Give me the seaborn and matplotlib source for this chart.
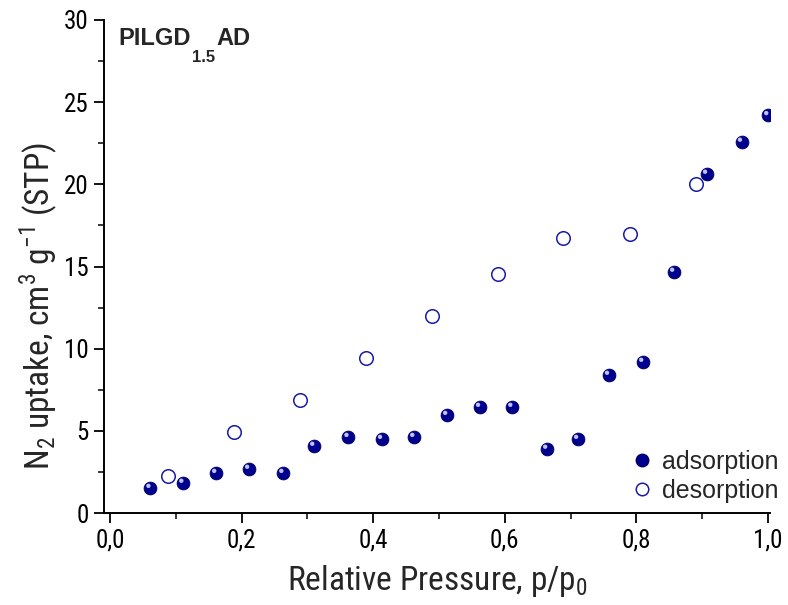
import matplotlib
matplotlib.use("Agg")
import matplotlib.pyplot as plt
import matplotlib.transforms as mtransforms
from matplotlib.ticker import MultipleLocator, FuncFormatter
from matplotlib.lines import Line2D
import seaborn as sns
import pandas as pd

ads_p = [0.061, 0.111, 0.161, 0.211, 0.263, 0.310, 0.362, 0.413, 0.462, 0.512,
         0.562, 0.611, 0.664, 0.711, 0.758, 0.810, 0.857, 0.907, 0.960, 1.000]
ads_v = [1.52, 1.83, 2.43, 2.68, 2.43, 4.08, 4.62, 4.50, 4.62, 5.96,
         6.45, 6.45, 3.90, 4.50, 8.40, 9.19, 14.67, 20.63, 22.58, 24.20]
des_p = [0.088, 0.188, 0.289, 0.389, 0.489, 0.590, 0.688, 0.790, 0.890]
des_v = [2.25, 4.93, 6.88, 9.43, 11.99, 14.55, 16.74, 16.98, 20.02]

sns.set_style("ticks")
plt.rcParams['font.family'] = ['Roboto Condensed', 'Liberation Sans', 'DejaVu Sans']

fig = plt.figure(figsize=(7.88, 6.05), dpi=100)
ax = fig.add_axes([0.132, 0.152, 0.845, 0.815])

ads = pd.DataFrame({"p": ads_p, "v": ads_v})
des = pd.DataFrame({"p": des_p, "v": des_v})

dark = "#00008f"
sns.scatterplot(data=ads, x="p", y="v", ax=ax, s=85, color=dark,
                edgecolor="#000060", linewidth=0.6, zorder=3)
# highlight for sphere look
off = mtransforms.ScaledTranslation(-1.2/72, 1.6/72, fig.dpi_scale_trans)
sns.scatterplot(data=ads, x="p", y="v", ax=ax, s=10, color="#c0c0ff",
                edgecolor="none", linewidth=0, zorder=4,
                transform=ax.transData + off)
sns.scatterplot(data=des, x="p", y="v", ax=ax, s=95, facecolor="white",
                edgecolor="#1a1aaa", linewidth=1.1, zorder=3)

ax.set_xlim(-0.009, 1.003)
ax.set_ylim(0, 30)
ax.xaxis.set_major_locator(MultipleLocator(0.2))
ax.xaxis.set_minor_locator(MultipleLocator(0.1))
ax.yaxis.set_major_locator(MultipleLocator(5))
ax.yaxis.set_minor_locator(MultipleLocator(2.5))
ax.xaxis.set_major_formatter(FuncFormatter(lambda v, pos: f"{v:.1f}".replace(".", ",")))
ax.yaxis.set_major_formatter(FuncFormatter(lambda v, pos: f"{int(round(v))}"))

for s in ["top", "right"]:
    ax.spines[s].set_visible(False)
for s in ["left", "bottom"]:
    ax.spines[s].set_linewidth(1.4)
    ax.spines[s].set_color("black")
ax.tick_params(which="major", direction="out", length=7, width=1.3, labelsize=18,
               colors="black", pad=4)
ax.tick_params(which="minor", direction="out", length=4.5, width=1.3)

ax.set_xlabel(r"Relative Pressure, p/p$_\mathregular{0}$", fontsize=24, labelpad=8)
ax.set_ylabel(r"N$_\mathregular{2}$ uptake, cm$^\mathregular{3}$ g$^\mathregular{-1}$ (STP)",
              fontsize=24, labelpad=8)
ax.yaxis.set_label_coords(-0.068, 0.42)

ax.text(0.0215, 0.949, "PILGD", transform=ax.transAxes,
        fontsize=17, fontweight="bold", family="Liberation Sans", va="baseline", ha="left")
ax.text(0.1315, 0.939, "1.5", transform=ax.transAxes,
        fontsize=12, fontweight="bold", family="Liberation Sans", va="top", ha="left")
ax.text(0.1695, 0.949, "AD", transform=ax.transAxes,
        fontsize=17, fontweight="bold", family="Liberation Sans", va="baseline", ha="left")

handles = [
    Line2D([], [], marker="o", linestyle="none", markersize=9, markerfacecolor=dark,
           markeredgecolor="#000060"),
    Line2D([], [], marker="o", linestyle="none", markersize=9, markerfacecolor="white",
           markeredgecolor="#1a1aaa", markeredgewidth=1.1),
]
ax.legend(handles, ["adsorption", "desorption"], loc="lower right",
          bbox_to_anchor=(1.046, -0.025), frameon=False, handlelength=1.0,
          handletextpad=0.3, labelspacing=0.2, prop={"family": "Liberation Sans", "size": 18})

fig.savefig("out.png", dpi=100)
